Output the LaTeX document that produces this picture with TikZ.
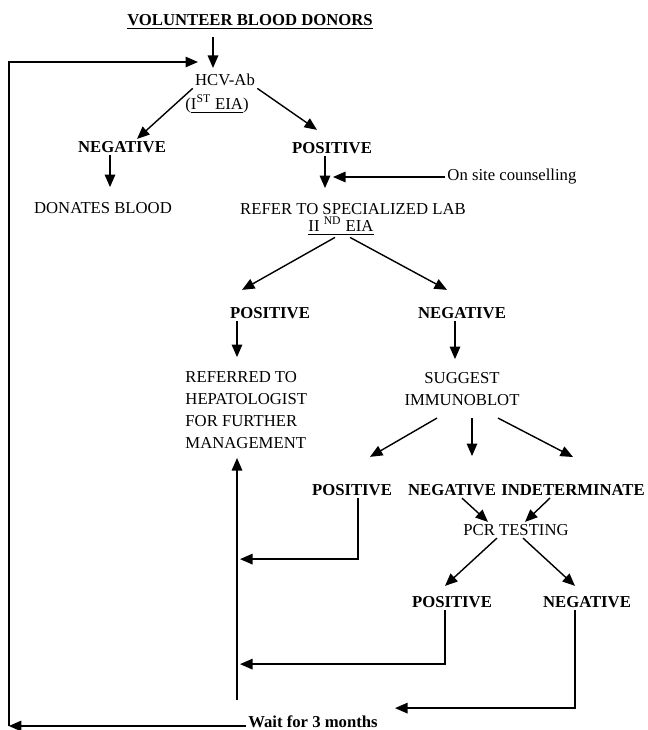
\documentclass[tikz,border=0pt]{standalone}
\usepackage{fontspec}
\setmainfont{Liberation Serif}
\usetikzlibrary{arrows.meta}

\begin{document}
\begin{tikzpicture}[
  x=0.2mm, y=-0.2mm, line width=0.8pt,
  font=\fontsize{9.5}{12.5}\selectfont, >={Triangle[length=2.5mm, width=2.1mm]},
  res/.style={font=\fontsize{9.5}{12.5}\selectfont\bfseries, inner sep=1pt},
  txt/.style={inner sep=1pt, align=center},
]
  \useasboundingbox (0,0) rectangle (647,730);

  \node[res] (title) at (250,22) {\underline{VOLUNTEER BLOOD DONORS}};
  \node[txt] (hcv) at (225,80) {HCV-Ab};
  \node[txt] (eia1) at (217,104) {(\underline{I\textsuperscript{ST} EIA})};
  \node[res] (neg1) at (122,147) {NEGATIVE};
  \node[res] (pos1) at (332,148) {POSITIVE};
  \node[txt] (donate) at (103,208) {DONATES BLOOD};
  \node[txt, anchor=west] (couns) at (445,177) {On site counselling};
  \node[txt] (refer) at (353,209) {REFER TO SPECIALIZED LAB};
  \node[txt] (eia2) at (341,226) {\underline{II \textsuperscript{ND} EIA}};

  \node[res] (pos2) at (270,313) {POSITIVE};
  \node[res] (neg2) at (462,313) {NEGATIVE};
  \node[txt, anchor=west, align=left] (hepat) at (183,410)
    {REFERRED TO\\ HEPATOLOGIST\\ FOR FURTHER\\ MANAGEMENT};
  \node[txt] (blot) at (462,389) {SUGGEST\\ IMMUNOBLOT};

  \node[res] (pos3) at (352,490) {POSITIVE};
  \node[res] (neg3) at (452,490) {NEGATIVE};
  \node[res] (ind3) at (573,490) {INDETERMINATE};
  \node[txt] (pcr) at (516,530) {PCR TESTING};
  \node[res] (pos4) at (452,602) {POSITIVE};
  \node[res] (neg4) at (587,602) {NEGATIVE};
  \node[res] (wait) at (313,722) {Wait for 3 months};

  \coordinate (hcvin) at (213,68);
  \coordinate (loopin) at (198,62);
  \coordinate (upfoot) at (237,700);

  \draw[->] (hcvin) ++(0,-31) -- (hcvin);
  \draw[->] (hcv.south west) -- ([xshift=3mm]neg1.north);
  \draw[->] (hcv.south east) -- ([xshift=-3mm, yshift=2mm]pos1.north);
  \draw[->] ([xshift=-2.4mm]neg1.south) -- ++(0,32);
  \draw[->] ([xshift=-1.4mm]pos1.south) -- ++(0,32);
  \draw[->] (couns.west) -- ++(-112,0);
  \draw[->] ([xshift=-1.2mm]eia2.south) -- ([xshift=-5.6mm, yshift=3mm]pos2.north);
  \draw[->] ([xshift=1.8mm]eia2.south) -- ([xshift=-3mm, yshift=3mm]neg2.north);
  \draw[->] ([xshift=-6.6mm]pos2.south) -- ++(0,36);
  \draw[->] ([xshift=-1.4mm]neg2.south) -- ++(0,38);
  \draw[->] ([xshift=-5mm, yshift=-2mm]blot.south) -- ([xshift=3.6mm, yshift=5mm]pos3.north);
  \draw[->] ([xshift=2mm, yshift=-2mm]blot.south) -- ++(0,38);
  \draw[->] ([xshift=7.2mm, yshift=-2mm]blot.south) -- ([yshift=5mm]ind3.north);
  \draw[->] ([xshift=2mm]neg3.south) -- ([xshift=-5.6mm]pcr.north);
  \draw[->] ([xshift=-4.6mm]ind3.south) -- ([xshift=1.8mm]pcr.north);
  \draw[->] ([xshift=-3.8mm]pcr.south) -- ([xshift=-1.4mm, yshift=1.6mm]pos4.north);
  \draw[->] ([xshift=1.4mm]pcr.south) -- ([xshift=-2.4mm, yshift=1.6mm]neg4.north);

  % back to the specialist
  \draw[->] (upfoot) -- ++(0,-242);
  \draw[->] ([xshift=1.2mm]pos3.south) -- ++(0,61) -- ++(-118,0);
  \draw[->] ([xshift=-1.4mm]pos4.south) -- ++(0,54) -- ++(-205,0);
  % retest loop
  \draw[->] ([xshift=-2.4mm]neg4.south) -- ++(0,98) -- ++(-180,0);
  \draw[->] ([yshift=-0.8mm]wait.west) -- ++(-237,0) coordinate (cnr);
  \draw[->] (cnr) |- (loopin);
\end{tikzpicture}
\end{document}
